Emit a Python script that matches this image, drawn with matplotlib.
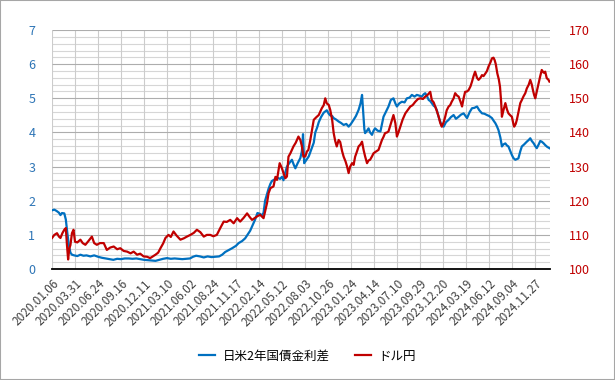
import matplotlib
matplotlib.use("Agg")
import matplotlib.pyplot as plt
from matplotlib.patches import Rectangle
from matplotlib.ticker import MultipleLocator

plt.rcParams["font.family"] = ["Noto Sans CJK JP", "DejaVu Sans"]

# x positions are trading-day indices; labels every 60 days
tick_labels = [
    "2020.01.06", "2020.03.31", "2020.06.24", "2020.09.16", "2020.12.11",
    "2021.03.10", "2021.06.02", "2021.08.24", "2021.11.17", "2022.02.14",
    "2022.05.12", "2022.08.03", "2022.10.26", "2023.01.24", "2023.04.14",
    "2023.07.10", "2023.09.29", "2023.12.20", "2024.03.19", "2024.06.12",
    "2024.09.04", "2024.11.27",
]
tick_step = 60
n_days = 1300

# 日米2年国債金利差 (left axis, %)
spread_idx = [
    0, 6, 12, 18, 22, 26, 32, 36, 40, 44, 48, 52, 58, 66, 74, 82, 90, 100, 110, 120,
    130, 140, 150, 160, 170, 180, 190, 200, 210, 220, 230, 240, 250, 260, 270, 280,
    290, 300, 310, 320, 330, 340, 350, 360, 368, 376, 386, 396, 406, 416, 426, 436,
    444, 452, 462, 470, 480, 487, 496, 504, 511, 517, 524, 530, 536, 542, 548, 552,
    556, 561, 565, 570, 574, 580, 587, 595, 600, 604, 608, 613, 619, 626, 631, 635,
    641, 648, 652, 655, 658, 664, 670, 678, 683, 687, 692, 696, 702, 709, 717, 722,
    726, 731, 735, 741, 748, 754, 761, 768, 774, 780, 787, 793, 800, 805, 809, 812,
    815, 817, 822, 826, 830, 835, 839, 843, 850, 857, 861, 865, 871, 878, 884, 891,
    896, 900, 906, 913, 920, 926, 933, 939, 946, 952, 958, 965, 970, 974, 979, 983,
    987, 991, 996, 1000, 1004, 1009, 1013, 1017, 1022, 1028, 1035, 1041, 1048, 1054,
    1061, 1067, 1074, 1078, 1083, 1090, 1096, 1102, 1109, 1115, 1122, 1128, 1135,
    1141, 1148, 1152, 1157, 1161, 1165, 1170, 1174, 1178, 1183, 1187, 1191, 1196,
    1200, 1204, 1209, 1213, 1217, 1222, 1226, 1232, 1239, 1244, 1248, 1252, 1257,
    1261, 1265, 1270, 1274, 1278, 1283, 1287, 1292, 1298,
]
spread_val = [
    1.72, 1.74, 1.70, 1.65, 1.58, 1.64, 1.63, 1.45, 1.05, 0.70, 0.48, 0.42, 0.40, 0.38,
    0.42, 0.39, 0.40, 0.37, 0.40, 0.36, 0.33, 0.31, 0.29, 0.27, 0.30, 0.29, 0.31, 0.31,
    0.30, 0.31, 0.29, 0.27, 0.26, 0.25, 0.24, 0.27, 0.30, 0.32, 0.30, 0.31, 0.30, 0.29,
    0.30, 0.31, 0.36, 0.39, 0.37, 0.34, 0.37, 0.35, 0.36, 0.37, 0.42, 0.50, 0.56, 0.61,
    0.68, 0.76, 0.82, 0.90, 1.02, 1.12, 1.30, 1.45, 1.64, 1.62, 1.57, 1.65, 2.00, 2.20,
    2.35, 2.50, 2.58, 2.62, 2.68, 2.64, 2.70, 2.60, 2.80, 3.00, 3.10, 3.20, 3.05, 2.95,
    3.10, 3.25, 3.45, 3.95, 3.10, 3.20, 3.30, 3.55, 3.70, 4.00, 4.15, 4.30, 4.45, 4.58,
    4.65, 4.55, 4.50, 4.48, 4.42, 4.38, 4.32, 4.28, 4.22, 4.25, 4.17, 4.25, 4.37, 4.48,
    4.66, 4.85, 5.10, 4.60, 4.10, 3.98, 4.05, 4.12, 4.00, 3.93, 4.05, 4.12, 4.05, 4.03,
    4.25, 4.46, 4.60, 4.76, 4.95, 5.00, 4.85, 4.76, 4.85, 4.90, 4.88, 5.00, 5.02, 5.10,
    5.05, 5.10, 5.08, 5.05, 5.12, 5.15, 5.05, 4.95, 4.92, 4.86, 4.78, 4.75, 4.66, 4.45,
    4.32, 4.20, 4.17, 4.30, 4.37, 4.45, 4.51, 4.40, 4.46, 4.52, 4.56, 4.50, 4.42, 4.60,
    4.71, 4.72, 4.76, 4.65, 4.56, 4.55, 4.51, 4.48, 4.42, 4.35, 4.27, 4.18, 4.07, 3.85,
    3.59, 3.65, 3.68, 3.62, 3.59, 3.45, 3.34, 3.25, 3.20, 3.22, 3.24, 3.45, 3.59, 3.65,
    3.73, 3.78, 3.83, 3.75, 3.68, 3.60, 3.54, 3.65, 3.75, 3.73, 3.68, 3.63, 3.58, 3.54,
]

# ドル円 (right axis, yen)
usdjpy_idx = [
    0, 6, 13, 18, 22, 27, 32, 36, 39, 42, 45, 48, 52, 56, 60, 66, 74, 80, 87, 95, 104,
    110, 117, 125, 135, 143, 152, 161, 170, 178, 187, 196, 205, 213, 222, 230, 239,
    248, 256, 263, 270, 277, 283, 290, 296, 304, 310, 317, 325, 335, 344, 352, 361,
    370, 378, 387, 396, 404, 413, 421, 430, 439, 448, 456, 465, 474, 483, 491, 500,
    509, 516, 522, 530, 535, 543, 552, 557, 561, 565, 570, 578, 583, 587, 594, 600,
    604, 609, 613, 617, 622, 630, 636, 643, 648, 652, 656, 661, 665, 669, 674, 679,
    683, 690, 696, 704, 709, 713, 717, 722, 726, 731, 735, 739, 743, 748, 752, 757,
    761, 766, 770, 774, 778, 783, 787, 791, 796, 800, 805, 809, 813, 817, 822, 826,
    830, 835, 839, 844, 852, 857, 861, 865, 869, 874, 878, 884, 891, 896, 900, 904,
    909, 915, 922, 928, 935, 941, 948, 955, 961, 968, 974, 980, 987, 991, 996, 1000,
    1005, 1009, 1013, 1017, 1022, 1026, 1030, 1035, 1039, 1043, 1048, 1052, 1057,
    1061, 1066, 1070, 1074, 1078, 1083, 1087, 1092, 1096, 1100, 1104, 1109, 1113,
    1118, 1122, 1126, 1131, 1135, 1139, 1144, 1148, 1152, 1155, 1158, 1162, 1166,
    1169, 1172, 1174, 1178, 1183, 1187, 1191, 1196, 1200, 1204, 1206, 1210, 1213,
    1218, 1222, 1226, 1230, 1235, 1239, 1244, 1248, 1252, 1255, 1258, 1261, 1265,
    1270, 1274, 1278, 1283, 1287, 1291, 1295, 1298,
]
usdjpy_val = [
    109.1, 110.0, 110.5, 109.5, 109.1, 110.5, 111.5, 112.0, 107.0, 102.8, 106.0, 107.0,
    110.5, 111.5, 108.0, 107.8, 108.6, 107.6, 107.1, 108.2, 109.5, 107.6, 107.1, 107.6,
    107.6, 105.6, 106.3, 106.6, 105.8, 106.1, 105.3, 105.1, 104.6, 105.1, 104.2, 104.5,
    103.7, 103.6, 103.2, 103.7, 104.2, 104.8, 106.1, 107.5, 109.1, 110.0, 109.4, 111.0,
    109.8, 108.6, 109.0, 109.5, 110.0, 110.6, 111.5, 110.8, 109.5, 110.0, 110.0, 109.6,
    110.0, 112.0, 113.9, 113.8, 114.4, 113.4, 114.9, 113.9, 115.0, 116.3, 115.2, 114.4,
    115.0, 115.4, 115.9, 114.9, 117.3, 119.3, 122.2, 123.7, 124.2, 127.0, 126.1, 131.0,
    129.5, 128.1, 126.6, 127.1, 132.9, 133.9, 135.9, 137.0, 138.8, 137.8, 136.0, 132.9,
    133.0, 134.4, 134.9, 137.8, 141.0, 143.7, 144.5, 145.1, 147.1, 148.0, 150.0, 148.5,
    148.1, 146.6, 143.7, 139.8, 137.5, 135.9, 137.8, 137.2, 134.5, 132.9, 131.5, 130.0,
    128.1, 130.0, 131.0, 130.5, 132.9, 134.5, 135.9, 136.5, 137.3, 134.9, 133.0, 131.0,
    131.8, 132.0, 133.0, 133.9, 134.3, 134.9, 136.5, 137.8, 138.7, 139.8, 140.0, 140.3,
    142.5, 145.1, 142.7, 138.8, 140.0, 141.7, 143.8, 145.6, 146.5, 147.6, 148.0, 149.0,
    149.8, 150.0, 149.8, 150.5, 151.0, 151.9, 149.5, 148.8, 147.6, 146.0, 144.6, 142.8,
    141.7, 143.0, 144.6, 146.5, 147.6, 148.0, 149.0, 150.0, 151.5, 150.8, 150.5, 149.0,
    147.6, 150.0, 151.9, 152.0, 152.4, 153.5, 154.9, 156.5, 157.8, 156.0, 155.4, 156.0,
    156.8, 156.5, 157.3, 158.0, 159.3, 160.5, 161.7, 161.9, 161.2, 160.0, 157.3, 155.5,
    153.4, 149.0, 144.6, 146.5, 148.6, 146.8, 145.6, 145.0, 144.6, 142.5, 141.7, 142.5,
    143.7, 146.5, 148.6, 149.5, 150.5, 151.5, 152.9, 154.0, 155.4, 154.0, 152.4, 151.0,
    150.0, 152.0, 154.4, 156.5, 158.3, 157.5, 157.8, 155.9, 155.5, 154.9,
]

BLUE = "#0070C0"
RED = "#C00000"

fig = plt.figure(figsize=(6.15, 3.80), dpi=100, facecolor="white")
ax = fig.add_axes([0.0846, 0.292, 0.894 - 0.0846, 0.921 - 0.292])
ax.set_facecolor("none")
ax2 = ax.twinx()
ax2.set_facecolor("none")

ax.set_xlim(0, n_days - 1)
ax.set_ylim(0, 7)
ax2.set_ylim(100, 170)

ax.yaxis.set_major_locator(MultipleLocator(1))
ax.yaxis.set_minor_locator(MultipleLocator(0.2))
ax2.yaxis.set_major_locator(MultipleLocator(10))
xticks = [i * tick_step for i in range(len(tick_labels))]
ax.set_xticks(xticks)
ax.set_xticklabels(tick_labels, rotation=45, ha="right", va="top",
                   rotation_mode="anchor", fontsize=8.5, color="#404040")

# gridlines: minor every 0.2, major every 1, vertical at each date label
ax.hlines(ax.yaxis.get_minorticklocs(), 0, n_days - 1, colors="#d6d6d6",
          linewidth=0.8, zorder=1)
ax.hlines(ax.yaxis.get_majorticklocs(), 0, n_days - 1, colors="#adadad",
          linewidth=0.8, zorder=1.1)
ax.vlines(xticks, 0, 7, colors="#cccccc", linewidth=0.8, zorder=1)

l1, = ax.plot(spread_idx, spread_val, color=BLUE, lw=1.6, zorder=3,
              label="日米2年国債金利差")
l2, = ax2.plot(usdjpy_idx, usdjpy_val, color=RED, lw=1.6, zorder=3, label="ドル円")

for a in (ax, ax2):
    for side in ("top", "left", "right"):
        a.spines[side].set_visible(False)
ax2.spines["bottom"].set_visible(False)
ax.spines["bottom"].set_color("black")
ax.spines["bottom"].set_linewidth(1.3)
ax.spines["bottom"].set_zorder(4)

ax.tick_params(axis="y", which="both", length=0, pad=12, labelsize=9, labelcolor="#2E75B6")
ax.tick_params(axis="x", length=0, pad=6)
ax2.tick_params(axis="y", length=0, pad=14, labelsize=9, labelcolor=RED)

fig.legend(handles=[l1, l2], loc="center", bbox_to_anchor=(0.5, 0.063), ncol=2,
           frameon=False, fontsize=9, handlelength=1.3, columnspacing=2.0,
           handletextpad=0.6)

fig.patches.append(Rectangle((0, 0), 1, 1, transform=fig.transFigure, fill=False,
                             edgecolor="#a6a6a6", lw=1.5))

fig.savefig("out.png", dpi=100, facecolor="white")
